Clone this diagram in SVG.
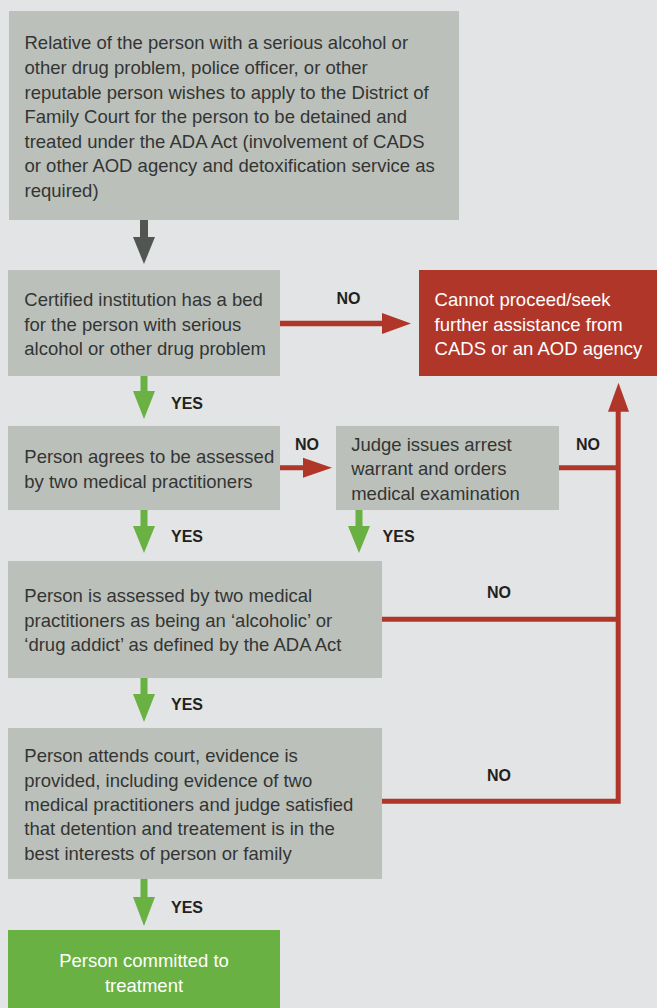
<svg xmlns="http://www.w3.org/2000/svg" width="657" height="1008" viewBox="0 0 657 1008">
<style>
.bg{fill:#e3e4e6}
.box{fill:#bcc0bb}
.red{fill:#b0362a}
.green{fill:#69b143}
.t{font-family:"Liberation Sans",Arial,sans-serif;font-size:18.5px;fill:#333533}
.tw{font-family:"Liberation Sans",Arial,sans-serif;font-size:18.5px;fill:#ffffff}
.lbl{font-family:"Liberation Sans",Arial,sans-serif;font-size:16px;font-weight:bold;fill:#231f20}
.rl{stroke:#b0362a;stroke-width:5;fill:none}
</style>
<rect class="bg" x="0" y="0" width="657" height="1008"/>
<g id="connectors">
  <!-- dark arrow top -->
  <polygon fill="#525652" points="140,220 148,220 148,237 155,237 144,264 133,237 140,237"/>
  <!-- green yes arrows -->
  <polygon class="green" points="140.5,376 147.5,376 147.5,391 155,391 144,419 133,391 140.5,391"/>
  <polygon class="green" points="140.5,510 147.5,510 147.5,526 155,526 144,553 133,526 140.5,526"/>
  <polygon class="green" points="355.5,510 362.5,510 362.5,526 370,526 359,553 348,526 355.5,526"/>
  <polygon class="green" points="140.5,678 147.5,678 147.5,694 155,694 144,722 133,694 140.5,694"/>
  <polygon class="green" points="140.5,879 147.5,879 147.5,897 155,897 144,926 133,897 140.5,897"/>
  <!-- red NO arrows -->
  <polygon class="red" points="280,320.8 382,320.8 382,313 411,323.5 382,334 382,326.2 280,326.2"/>
  <polygon class="red" points="280,465.3 303,465.3 303,457.7 332,467.7 303,477.7 303,470.3 280,470.3"/>
  <polyline class="rl" points="559,467.8 618.2,467.8"/>
  <polyline class="rl" points="382,619.2 618.2,619.2"/>
  <polyline class="rl" points="382,801.3 618.2,801.3 618.2,410"/>
  <polygon class="red" points="618.5,382.7 629,411.7 608,411.7"/>
</g>
<g id="n1">
  <rect class="box" x="9" y="11" width="450" height="209"/>
  <text class="t" x="24.5" y="49.3">Relative of the person with a serious alcohol or</text>
  <text class="t" x="24.5" y="74">other drug problem, police officer, or other</text>
  <text class="t" x="24.5" y="98.7">reputable person wishes to apply to the District of</text>
  <text class="t" x="24.5" y="123.3">Family Court for the person to be detained and</text>
  <text class="t" x="24.5" y="147.7">treated under the ADA Act (involvement of CADS</text>
  <text class="t" x="24.5" y="172">or other AOD agency and detoxification service as</text>
  <text class="t" x="24.5" y="196.7">required)</text>
</g>
<g id="n2">
  <rect class="box" x="8" y="270" width="272" height="106"/>
  <text class="t" x="24.3" y="306">Certified institution has a bed</text>
  <text class="t" x="24.3" y="330.7">for the person with serious</text>
  <text class="t" x="24.3" y="355">alcohol or other drug problem</text>
</g>
<g id="n3">
  <rect class="red" x="419" y="270" width="238" height="106"/>
  <text class="tw" x="434.6" y="306">Cannot proceed/seek</text>
  <text class="tw" x="434.6" y="330.7">further assistance from</text>
  <text class="tw" x="434.6" y="355">CADS or an AOD agency</text>
</g>
<g id="n4">
  <rect class="box" x="8" y="426" width="272" height="84"/>
  <text class="t" x="24.3" y="463.3">Person agrees to be assessed</text>
  <text class="t" x="24.3" y="487.7">by two medical practitioners</text>
</g>
<g id="n5">
  <rect class="box" x="336" y="426" width="223" height="84"/>
  <text class="t" x="351.2" y="450.7">Judge issues arrest</text>
  <text class="t" x="351.2" y="475">warrant and orders</text>
  <text class="t" x="351.2" y="500">medical examination</text>
</g>
<g id="n6">
  <rect class="box" x="8" y="561" width="374" height="117"/>
  <text class="t" x="24.3" y="601.7">Person is assessed by two medical</text>
  <text class="t" x="24.3" y="626.7">practitioners as being an ‘alcoholic’ or</text>
  <text class="t" x="24.3" y="650.7">‘drug addict’ as defined by the ADA Act</text>
</g>
<g id="n7">
  <rect class="box" x="8" y="728" width="374" height="151"/>
  <text class="t" x="24.3" y="761.7">Person attends court, evidence is</text>
  <text class="t" x="24.3" y="786.7">provided, including evidence of two</text>
  <text class="t" x="24.3" y="810.7">medical practitioners and judge satisfied</text>
  <text class="t" x="24.3" y="835">that detention and treatement is in the</text>
  <text class="t" x="24.3" y="860">best interests of person or family</text>
</g>
<g id="n8">
  <rect class="green" x="8" y="930" width="272" height="78"/>
  <text class="tw" x="144" y="966.7" text-anchor="middle">Person committed to</text>
  <text class="tw" x="144" y="991.7" text-anchor="middle">treatment</text>
</g>
<g id="labels">
  <text class="lbl" x="336.5" y="304">NO</text>
  <text class="lbl" x="171" y="409">YES</text>
  <text class="lbl" x="295" y="450">NO</text>
  <text class="lbl" x="576" y="450">NO</text>
  <text class="lbl" x="171" y="541.7">YES</text>
  <text class="lbl" x="382.6" y="541.7">YES</text>
  <text class="lbl" x="487" y="598.3">NO</text>
  <text class="lbl" x="171" y="710">YES</text>
  <text class="lbl" x="487" y="780.7">NO</text>
  <text class="lbl" x="171" y="912.7">YES</text>
</g>
</svg>
